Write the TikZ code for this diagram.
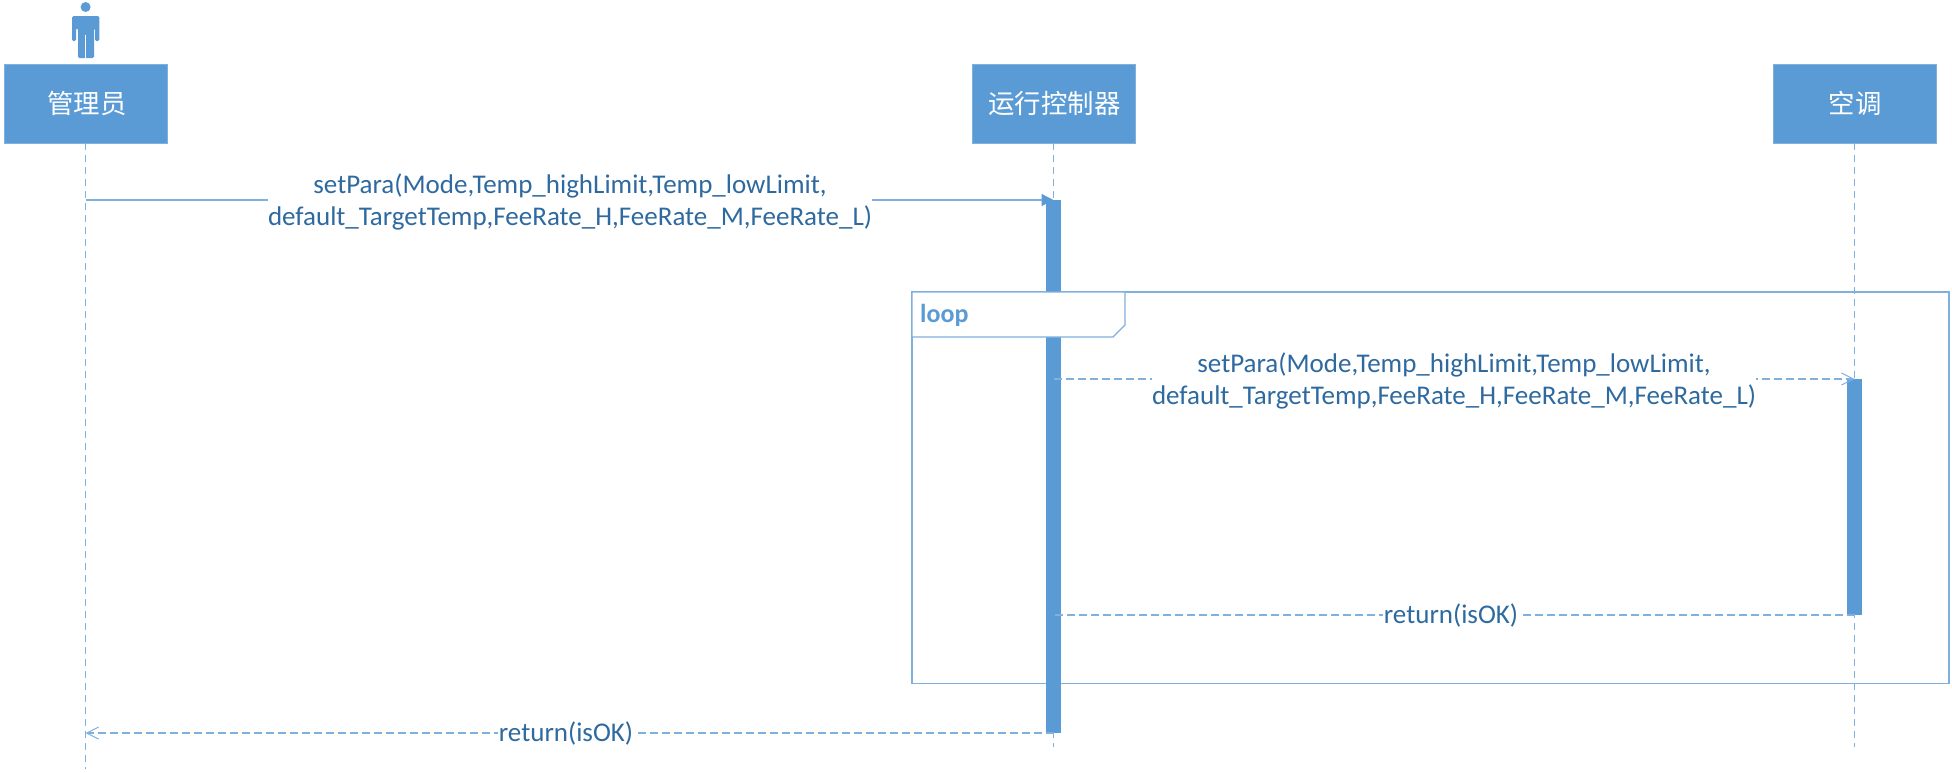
\documentclass[tikz,border=0pt]{standalone}
\usepackage{fontspec}
\setmainfont{Carlito}
\newfontfamily\cjk{Noto Sans CJK SC}
\usetikzlibrary{arrows.meta}
\definecolor{umlblue}{HTML}{5B9BD5}
\definecolor{umlline}{HTML}{7FB0DE}
\definecolor{umltext}{HTML}{2E6A9F}
\tikzset{
  x=1pt,y=-1pt,
  headbox/.style={fill=umlblue,draw=umlline,line width=0.8pt,minimum width=163pt,minimum height=79pt,inner sep=0pt,text=white,font=\fontsize{26.4}{26}\selectfont\cjk},
  lifeline/.style={draw=umlline,line width=1.3pt,dash pattern=on 7pt off 5pt},
  activation/.style={fill=umlblue,draw=none},
  solidmsg/.style={draw=umlline,line width=1.3pt,-{Triangle[length=12pt,width=12pt,fill=umlblue,color=umlblue]}},
  dashmsg/.style={draw=umlline,line width=1.2pt,dash pattern=on 8pt off 4pt},
  openmsg/.style={dashmsg,-{Straight Barb[length=12pt,width=12pt,line width=1pt]}},
  msglabel/.style={fill=white,text=umltext,align=center,inner sep=0.5pt,font=\fontsize{27}{32.5}\selectfont},
  framebox/.style={draw=umlline,line width=1.3pt},
  tabbox/.style={fill=white,draw=umlline,line width=1.3pt},
  looptext/.style={text=umlblue,inner sep=0pt,anchor=west,font=\fontsize{26}{28}\selectfont\bfseries}
}
\begin{document}
\begin{tikzpicture}
\useasboundingbox (0,0) rectangle (1952,772);
% actor icon
\fill[umlblue] (85.6,7) circle (5);
\fill[umlblue,rounded corners=1.5pt] (72,41) -- (72,16) -- (99.4,16) -- (99.4,41) -- (95,41) -- (95,28) -- (94,28) -- (94,58) -- (78,58) -- (78,28) -- (76,28) -- (76,41) -- cycle;
\draw[white,line width=0.8pt] (85.6,35) -- (85.6,58);
% heads
\node[headbox] (admin) at (85.5,103.5) {\hspace{3pt}管理员};
\node[headbox] (ctrl) at (1053.5,103.5) {\hspace{2pt}运行控制器};
\node[headbox] (ac) at (1854.5,103.5) {\hspace{1pt}空调};
% lifeline ends
\coordinate (adminEnd) at (85.5,769);
\coordinate (ctrlEnd) at (1053.5,747);
\coordinate (acEnd) at (1854.5,747);
\draw[lifeline] (admin.south) -- (adminEnd);
\draw[lifeline] (ctrl.south) -- (ctrlEnd);
\draw[lifeline] (ac.south) -- (acEnd);
% loop frame body
\node[framebox,minimum width=1037pt,minimum height=391.5pt,inner sep=0pt] (frame) at (1430.5,487.75) {};
% activations
\node[activation,minimum width=15pt,minimum height=533pt,inner sep=0pt] (actA) at (1053.5,466.5) {};
\node[activation,minimum width=15pt,minimum height=236pt,inner sep=0pt] (actB) at (1854.5,497) {};
% loop tab
\draw[tabbox] (912,292) -- (1125,292) -- (1125,325) -- (1113,337) -- (912,337) -- cycle;
\node[looptext] (looplabel) at (920,315) {loop};
% connector anchors
\coordinate (m1s) at (85.5,200);
\coordinate (m1e) at (1053.5,200);
\coordinate (m2s) at (1053.5,379);
\coordinate (m2e) at (1854.5,379);
\coordinate (m3s) at (1854.5,615);
\coordinate (m3e) at (1053.5,615);
\coordinate (m4s) at (1053.5,733);
\coordinate (m4e) at (85.5,733);
\draw[solidmsg] (m1s) -- (m1e);
\draw[openmsg] (m2s) -- (m2e);
\draw[dashmsg] (m3s) -- (m3e);
\draw[openmsg] (m4s) -- (m4e);
% labels
\node[msglabel] (l1) at (570,202) {setPara(Mode,Temp\_highLimit,Temp\_lowLimit,\\default\_TargetTemp,FeeRate\_H,FeeRate\_M,FeeRate\_L)};
\node[msglabel] (l2) at (1454,381) {setPara(Mode,Temp\_highLimit,Temp\_lowLimit,\\default\_TargetTemp,FeeRate\_H,FeeRate\_M,FeeRate\_L)};
\node[msglabel] (l3) at (1451,615.5) {return(isOK)};
\node[msglabel] (l4) at (566,733.5) {return(isOK)};
\end{tikzpicture}
\end{document}
